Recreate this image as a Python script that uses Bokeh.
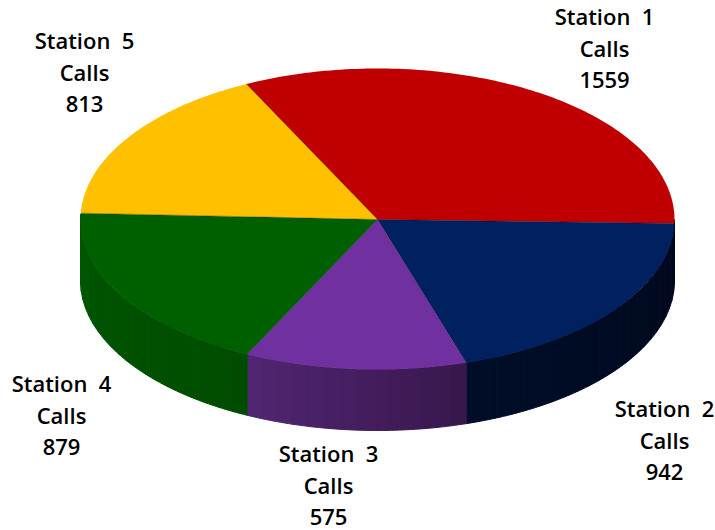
import math
from bokeh.plotting import figure
from bokeh.models import Range1d
from bokeh.core.properties import value
from bokeh.embed import file_html
from bokeh.resources import INLINE

NB = "\u00a0"
stations = [f"Station{NB}{NB}1", f"Station{NB}{NB}2", f"Station{NB}{NB}3", f"Station{NB}{NB}4", f"Station{NB}{NB}5"]
calls = [1559, 942, 575, 879, 813]
top_colors = ["#C00000", "#002060", "#7030A0", "#006000", "#FFC000"]
side_from = [(96, 0, 0), (0, 14, 40), (82, 38, 116), (0, 88, 0), (128, 96, 0)]
side_to = [(96, 0, 0), (0, 9, 30), (56, 23, 76), (0, 76, 0), (128, 96, 0)]
label_xy = [(604, 15), (664, 407), (328, 452), (61, 382), (84, 39)]

CX, CY, RX, RY_BACK, RY_FRONT, DEPTH = 377.0, 219.0, 297.0, 151.0, 150.0, 61.0
START = -1.5  # degrees, direction of the red/navy boundary
LINE_GAP = 32

W, H = 715, 530
p = figure(width=W, height=H, output_backend="svg", toolbar_location=None,
           x_range=Range1d(0, W), y_range=Range1d(H, 0),
           min_border=0, outline_line_color=None, background_fill_color="white")
p.axis.visible = False
p.grid.visible = False
p.styles = {"position": "absolute", "left": "0px", "top": "0px"}


def pt(a):
    s = math.sin(math.radians(a))
    return CX + RX * math.cos(math.radians(a)), CY - (RY_BACK if s > 0 else RY_FRONT) * s


total = sum(calls)
spans = []
a = START + 360 * calls[0] / total
for c in calls:
    b = a - 360 * c / total
    spans.append((b, a))
    a = b

# front wall
for (lo, up), c0, c1 in zip(spans, side_from, side_to):
    for shift in (0, 360, -360):
        l, u = lo + shift, up + shift
        l2, u2 = max(l, 178.0), min(u, 360.0)
        if u2 <= l2:
            continue
        n = max(2, int((u2 - l2) / 3))
        for i in range(n):
            a0 = l2 + (u2 - l2) * i / n
            a1 = l2 + (u2 - l2) * (i + 1) / n
            t = (i + 0.5) / n
            col = tuple(int(c0[k] + (c1[k] - c0[k]) * t) for k in range(3))
            arc = [a0 + (a1 - a0) * j / 4 for j in range(5)]
            top = [pt(q) for q in arc]
            hexc = "#%02x%02x%02x" % col
            p.patch([q[0] for q in top] + [q[0] for q in reversed(top)],
                    [q[1] for q in top] + [q[1] + DEPTH for q in reversed(top)],
                    fill_color=hexc, line_color=hexc, line_width=1)

# top face
for (lo, up), col in zip(spans, top_colors):
    n = max(8, int(up - lo))
    arc = [lo + (up - lo) * j / n for j in range(n + 1)]
    pts = [pt(q) for q in arc]
    p.patch([CX] + [q[0] for q in pts], [CY] + [q[1] for q in pts],
            fill_color=col, line_color=None)

# thin dark seams between slices
for lo, up in spans:
    x, y = pt(up)
    p.line([CX, x], [CY, y], line_color="#000000", line_alpha=0.3, line_width=1)

# labels
for name, c, (x, y) in zip(stations, calls, label_xy):
    for k, line in enumerate((name, "Calls", str(c))):
        p.text([x], [y + k * LINE_GAP], text=[line], text_align="center",
               text_baseline="middle", text_color="#000000",
               text_font=value("Open Sans SemiBold"), text_font_size="22px",
               text_font_style="normal")

open("out.html", "w").write(file_html(p, INLINE))
